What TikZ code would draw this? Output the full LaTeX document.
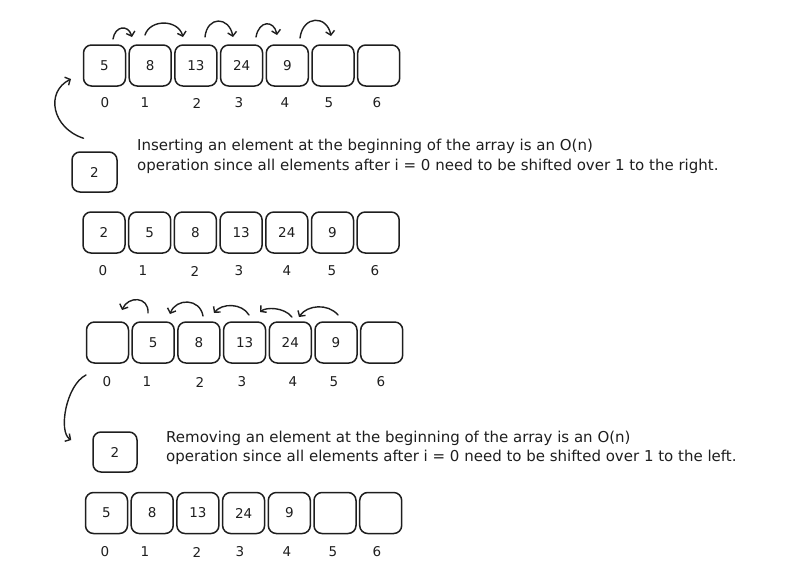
\documentclass[tikz,border=0pt]{standalone}
\usepackage{fontspec}
\setmainfont{DejaVu Sans}
\usetikzlibrary{arrows.meta}
\definecolor{ink}{RGB}{30,30,30}
\tikzset{
  cell/.style={draw=ink, line width=1.5pt, rounded corners=8pt, minimum width=42pt, minimum height=41pt, inner sep=0pt},
  hop/.style={draw=ink, -{Straight Barb[length=4pt,width=9pt]}, line width=1.4pt, line cap=round},
  note/.style={anchor=west, align=left, inner sep=0pt, font=\fontsize{15}{19.5}\selectfont}
}
\begin{document}
\begin{tikzpicture}[x=1pt,y=-1pt,font=\fontsize{13.5}{19}\selectfont,text=ink]
  \useasboundingbox (0,0) rectangle (805,581);
  \draw
    (104.5,65.5) node[cell] (a0){5}
    (150.2,65.5) node[cell] (a1){8}
    (195.9,65.5) node[cell] (a2){13}
    (241.6,65.5) node[cell] (a3){24}
    (287.3,65.5) node[cell] (a4){9}
    (333.0,65.5) node[cell] (a5){}
    (378.7,65.5) node[cell] (a6){};
  \draw
    (105,103) node (ia0){0}
    (145,103) node (ia1){1}
    (197,103) node (ia2){2}
    (239,103) node (ia3){3}
    (285,103) node (ia4){4}
    (329,103) node (ia5){5}
    (377,103) node (ia6){6};
  \node[cell, minimum width=45pt, minimum height=40pt] (ins) at (94.5,172) {2};
  \node[note] (instext) at (137,156.5) {Inserting an element at the beginning of the array is an O(n)\\operation since all elements after i = 0 need to be shifted over 1 to the right.};
  \draw
    (104.0,232.5) node[cell] (b0){2}
    (149.7,232.5) node[cell] (b1){5}
    (195.4,232.5) node[cell] (b2){8}
    (241.1,232.5) node[cell] (b3){13}
    (286.8,232.5) node[cell] (b4){24}
    (332.5,232.5) node[cell] (b5){9}
    (378.2,232.5) node[cell] (b6){};
  \draw
    (103,271) node (ib0){0}
    (143,271) node (ib1){1}
    (195,271) node (ib2){2}
    (239,271) node (ib3){3}
    (287,271) node (ib4){4}
    (332,271) node (ib5){5}
    (375,271) node (ib6){6};
  \draw
    (107.5,342.5) node[cell] (c0){}
    (153.2,342.5) node[cell] (c1){5}
    (198.9,342.5) node[cell] (c2){8}
    (244.6,342.5) node[cell] (c3){13}
    (290.3,342.5) node[cell] (c4){24}
    (336.0,342.5) node[cell] (c5){9}
    (381.7,342.5) node[cell] (c6){};
  \draw
    (107,382) node (ic0){0}
    (147,382) node (ic1){1}
    (200,382) node (ic2){2}
    (242,382) node (ic3){3}
    (293,382) node (ic4){4}
    (334,382) node (ic5){5}
    (381,382) node (ic6){6};
  \node[cell, minimum width=44pt, minimum height=40pt] (rem) at (115,452) {2};
  \node[note] (remtext) at (166,448) {Removing an element at the beginning of the array is an O(n)\\operation since all elements after i = 0 need to be shifted over 1 to the left.};
  \draw
    (106.5,513) node[cell] (d0){5}
    (152.2,513) node[cell] (d1){8}
    (197.9,513) node[cell] (d2){13}
    (243.6,513) node[cell] (d3){24}
    (289.3,513) node[cell] (d4){9}
    (335.0,513) node[cell] (d5){}
    (380.7,513) node[cell] (d6){};
  \draw
    (105,552) node (id0){0}
    (145,552) node (id1){1}
    (197,552) node (id2){2}
    (240,552) node (id3){3}
    (287,552) node (id4){4}
    (333,552) node (id5){5}
    (377,552) node (id6){6};
  \coordinate (r1) at (113,39);  \coordinate (s1) at (132,37);
  \coordinate (r2) at (145,35);  \coordinate (s2) at (183,37);
  \coordinate (r3) at (205,37);  \coordinate (s3) at (233,37);
  \coordinate (r4) at (256,37);  \coordinate (s4) at (277,35);
  \coordinate (r5) at (300,38);  \coordinate (s5) at (331,36);
  \coordinate (l1) at (148,313); \coordinate (m1) at (122,310);
  \coordinate (l2) at (203,316); \coordinate (m2) at (170,314);
  \coordinate (l3) at (249,315); \coordinate (m3) at (214,313);
  \coordinate (l4) at (292,317); \coordinate (m4) at (260,312);
  \coordinate (l5) at (338,315); \coordinate (m5) at (299,317);
  \coordinate (up) at (71,79);
  \coordinate (down) at (86,375);
  \begin{scope}[hop]
    \draw (r1) .. controls +(2,-13) and +(-4,-13) .. (s1);
    \draw (r2) .. controls +(5,-16) and +(-5,-18) .. (s2);
    \draw (r3) .. controls +(2,-21) and +(-4,-21) .. (s3);
    \draw (r4) .. controls +(3,-17) and +(-3,-15) .. (s4);
    \draw (r5) .. controls +(3,-23) and +(-4,-21) .. (s5);
    \draw (l1) .. controls +(1,-17) and +(6,-14) .. (m1);
    \draw (l2) .. controls +(-3,-18) and +(6,-16) .. (m2);
    \draw (l3) .. controls +(-7,-12) and +(8,-10) .. (m3);
    \draw (l4) .. controls +(-8,-10) and +(6,-5) .. (m4);
    \draw (l5) .. controls +(-10,-12) and +(8,-12) .. (m5);
    \draw ([shift={(-11,-13)}]ins.north) .. controls (52,128) and (45,92) .. (up);
    \draw (down) .. controls (66,385) and (58,432) .. ([shift={(-21,-12)}]rem.west);
  \end{scope}
\end{tikzpicture}
\end{document}
